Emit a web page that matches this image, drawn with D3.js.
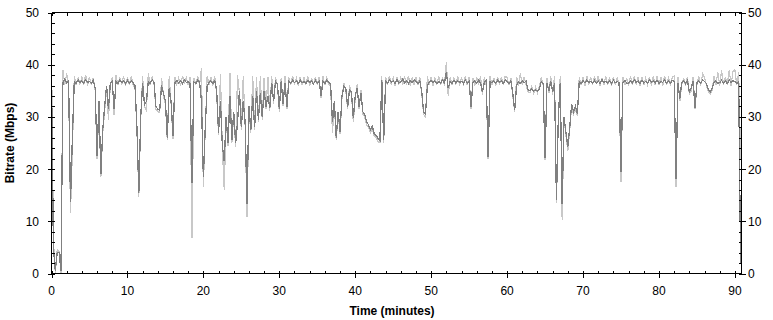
<!DOCTYPE html>
<html><head><meta charset="utf-8">
<script src="https://cdn.jsdelivr.net/npm/d3@7"></script>
<style>
body{margin:0;background:#fff}
svg{display:block}
text{font-family:Arial,"Liberation Sans",sans-serif;fill:#000}
</style>
</head><body>
<svg id="chart" width="773" height="320"></svg>
<script>
// Sampling interval of the trace (minutes between samples)
const sampleStepMin = 0.25;

// Average bitrate (dark trace), one row per minute: t = m, m+.25, m+.5, m+.75
const avgMbps = [
38,5,0.5,4, 4,0.4,36.5,37.2, 36.5,36.9,13.7,26, 36.8,36.4,37.1,36.6, 36.9,36.5,37.1,36.6,
36.8,36.4,37.0,35.5, 22.5,33,19,27.5, 32,36,31.5,36.5, 36.8,31.5,36.8,36.4, 37.1,36.6,36.9,36.4,
37.0,36.5,36.9,36.5, 36,28,15.5,30, 36.5,32.3,33,36.8, 36.4,37.1,36.6,32, 31.5,31.3,36,34.5,
33,26,35.5,33, 26.3,36.5,37.0,36.5, 36.9,36.4,37.1,36.6, 36.8,36.4,17.3,36.7, 36.4,37.0,36.6,33,
18.5,28,36,36.6, 36.9,36.4,37.0,35, 27,33,24.5,21.5, 30,25,34,25.5, 31,25,29,35,
28,33,29,13.4, 32,27.5,34,28, 35,29.5,34.5,30, 35,32,34,31.7, 36.5,33,36.8,36.3,
31.5,36.8,32.5,36.5, 32,36.8,36.4,37.0, 36.6,36.9,36.4,37.1, 36.5,36.8,36.4,37.0, 36.6,36.9,36.3,37.0,
36.5,36.9,34,36.8, 36.4,37.0,36.6,36.3, 29,33,26,31, 27.2,34,35.8,35.5, 32,35.2,34.8,29.8,
34,35.5,32,34.5, 31,30.5,29,28.5, 27.5,28.2,26.8,26.5, 25.8,25.5,37,25.6, 36.8,36.4,37.1,36.6,
36.9,36.4,37.1,36.5, 36.7,37.2,36.5,36.9, 36.4,37.0,36.6,37.1, 36.8,36.4,36.9,35, 31,30.5,36,36.6,
37.0,36.5,36.9,36.4, 36.8,36.4,37.1,36.5, 38.5,35.5,36.8,36.4, 37.0,36.5,36.9,36.6, 36.8,36.4,37.1,36.5,
36.8,32,36.6,36.9, 36.4,37.0,36.5,34.8, 36.6,37.0,22.4,36.7, 36.5,36.9,36.4,37.0, 36.6,36.9,36.4,37.1,
36.7,36.4,36.9,34.5, 31.3,36,36.7,36.4, 36.9,36.6,36.8,35.3, 35.0,35.4,34.9,35.2, 35.0,35.3,36.8,36.4,
22.1,36.5,35,36.8, 34.8,36.5,14,30, 36.5,13.4,30,27, 24.3,28,32.5,31, 32,30.6,36.8,36.4,
36.9,36.5,37.1,36.6, 36.8,36.4,37.0,36.5, 36.9,36.4,37.1,36.6, 36.8,36.5,36.9,36.4, 37.0,36.6,36.8,36.5,
19.5,36.6,37.0,36.5, 36.4,36.9,36.5,37.1, 36.6,36.9,36.4,37.0, 36.5,36.8,36.4,37.1, 36.6,36.9,36.5,37.0,
36.4,36.8,36.6,37.1, 36.5,36.9,36.4,37.0, 36.8,18.2,36.5,33.5, 36.6,36.9,36.4,37.0, 34.8,35.5,36.9,31.7,
36.5,36.9,36.4,37.1, 36.8,36.4,35.2,34.7, 35.4,36.6,36.9,36.4, 36.6,37.0,36.5,36.9, 36.4,37.1,36.6,36.9,
36.8,36.4,36.7,2
];

// Peak bitrate (light trace), same sampling
const peakMbps = [
43,6.5,0,4.5, 4.2,0,39,36.2, 38.4,36.0,11.5,23.5, 37.8,36.1,37.5,36.3, 37.6,36.2,38.1,36.0,
37.7,36.1,37.5,35.0, 22,32,18.5,27, 31,35.5,29.5,36, 37.6,30.3,38.0,36.1, 37.5,36.2,37.8,36.0,
37.6,36.1,37.8,36.2, 35.5,27.5,14.7,29.5, 37.8,32.0,31.3,38.3, 36.1,37.6,36.3,31.5, 31.0,30.8,37.5,34,
32.5,25.5,37.8,32.5, 25.8,37.6,36.2,37.5, 36.0,37.9,36.3,37.6, 36.1,37.7,6.8,37.5, 36.2,37.8,36.1,39.4,
16.6,27.5,37.9,36.2, 37.6,36.0,37.8,34.5, 26.5,38.3,24,16, 29.5,24.5,38.5,25, 30.5,24.3,38,34.5,
27.5,37.8,28.5,10.8, 31.5,27,37.9,27.5, 37.6,29,37.8,29.5, 37.5,31.5,37.6,31.2, 37.8,32.5,37.6,36.0,
31.0,37.5,32.0,37.8, 31.5,37.6,36.1,37.9, 36.2,37.5,36.0,37.7, 36.1,37.6,36.2,37.8, 36.0,37.5,36.1,37.7,
36.2,37.6,33.6,37.8, 36.1,37.5,36.2,36.0, 27,32.5,25.5,30.5, 26.8,33.5,36.5,35.0, 31.5,36.0,34.3,29.0,
33.5,36.2,31.5,35.2, 30.5,30.0,28.5,28.0, 27.0,27.8,26.3,26.0, 25.3,25.0,37.8,25.0, 37.6,36.1,37.8,36.2,
37.5,36.0,37.7,36.3, 37.6,36.2,37.8,36.1, 37.9,36.0,37.5,36.2, 37.6,36.1,37.7,34.5, 30.5,30.0,37.8,36.2,
37.7,36.0,37.5,36.3, 37.8,36.1,37.6,36.0, 40.6,34.0,37.6,36.1, 37.5,36.2,37.8,36.0, 37.6,36.3,37.8,36.1,
37.7,31.5,37.5,36.0, 37.6,36.2,37.8,34.3, 37.6,36.1,22.0,37.9, 36.1,37.5,36.0,37.7, 36.2,37.6,36.1,37.8,
37.6,36.1,37.5,34.0, 31.0,37.7,36.0,38.3, 36.2,37.6,36.1,34.9, 34.6,35.9,34.5,35.7, 34.6,35.8,37.6,36.1,
21.8,37.5,34.5,37.8, 34.3,37.8,13.5,29.5, 37.8,10.2,29.5,26.5, 23.5,27.5,32.0,30.5, 31.5,30.2,37.6,36.2,
37.5,36.0,37.8,36.2, 37.6,36.1,37.8,36.3, 37.9,36.0,37.5,36.1, 37.8,36.2,37.6,36.0, 37.7,36.1,37.5,36.2,
17.6,37.6,36.1,37.5, 36.0,37.8,36.1,37.8, 36.2,37.6,36.0,37.7, 36.1,37.5,36.2,37.6, 36.0,37.8,36.1,37.8,
36.2,37.6,36.0,37.9, 36.1,37.5,36.2,37.6, 37.8,16.6,37.6,33.0, 36.1,37.5,36.0,37.7, 34.3,35.0,37.6,31.5,
36.2,37.8,36.0,38.3, 37.5,36.0,34.8,34.3, 35.0,37.8,36.2,38.6, 36.0,38.9,36.1,37.6, 36.2,39.0,36.0,38.7,
39.0,36.1,38.5,22
];

const xTickValues = [0,10,20,30,40,50,60,70,80,90];
const xMinorValues = d3.range(0, 91, 2);
const yTickValues = [0,10,20,30,40,50];
const yMinorValues = d3.range(0, 51, 2);
const xTitle = "Time (minutes)";
const yTitle = "Bitrate (Mbps)";

const svg = d3.select("#chart");
const X0 = 51.5, X1 = 741.5, Y0 = 273.5, Y1 = 12.5;
const x = d3.scaleLinear().domain([0, 90.87]).range([X0, X1]);
const y = d3.scaleLinear().domain([0, 50]).range([Y0, Y1]);

const avgData = avgMbps.map((v, i) => ({t: i * sampleStepMin, v}));
const peakData = peakMbps.map((v, i) => ({t: i * sampleStepMin, v}));
const line = d3.line().x(d => x(d.t)).y(d => y(d.v));

svg.append("path").datum(peakData).attr("d", line)
  .attr("fill", "none").attr("stroke", "#c8c8c8").attr("stroke-width", 1.2)
  .attr("shape-rendering", "crispEdges");
svg.append("path").datum(avgData).attr("d", line)
  .attr("fill", "none").attr("stroke", "#808080").attr("stroke-width", 1.3)
  .attr("shape-rendering", "crispEdges");

const ax = svg.append("g").attr("stroke", "#000").attr("shape-rendering", "crispEdges");
// frame lines
ax.append("line").attr("x1", X0).attr("x2", X1).attr("y1", Y0).attr("y2", Y0);
ax.append("line").attr("x1", X0).attr("x2", X1).attr("y1", Y1).attr("y2", Y1);
ax.append("line").attr("x1", X0).attr("x2", X0).attr("y1", Y1).attr("y2", Y0);
ax.append("line").attr("x1", X1).attr("x2", X1).attr("y1", Y1).attr("y2", Y0);

// x ticks bottom & top
xMinorValues.forEach(v => {
  const px = Math.round(x(v)) + 0.5;
  const major = v % 10 === 0;
  ax.append("line").attr("x1", px).attr("x2", px).attr("y1", Y0 - 3).attr("y2", major ? Y0 + 4 : Y0);
  ax.append("line").attr("x1", px).attr("x2", px).attr("y1", Y1).attr("y2", Y1 + 3);
});
// y ticks left & right
yMinorValues.forEach(v => {
  const py = Math.round(y(v)) + 0.5;
  const major = v % 10 === 0;
  ax.append("line").attr("x1", major ? X0 - 4 : X0).attr("x2", X0 + 3).attr("y1", py).attr("y2", py);
  ax.append("line").attr("x1", X1 - 3).attr("x2", major ? X1 + 4 : X1).attr("y1", py).attr("y2", py);
});

const lbl = svg.append("g").attr("font-size", "12px");
xTickValues.forEach(v => {
  lbl.append("text").attr("x", x(v)).attr("y", 295).attr("text-anchor", "middle").text(v);
});
yTickValues.forEach(v => {
  lbl.append("text").attr("x", 39).attr("y", y(v) + 4.5).attr("text-anchor", "end").text(v);
  lbl.append("text").attr("x", 748).attr("y", y(v) + 4.5).attr("text-anchor", "start").text(v);
});
svg.append("text").attr("x", 392).attr("y", 315).attr("text-anchor", "middle")
  .attr("font-size", "12px").attr("font-weight", "bold").text(xTitle);
svg.append("text").attr("transform", "translate(14,143) rotate(-90)").attr("text-anchor", "middle")
  .attr("font-size", "12px").attr("font-weight", "bold").text(yTitle);
</script>
</body></html>
